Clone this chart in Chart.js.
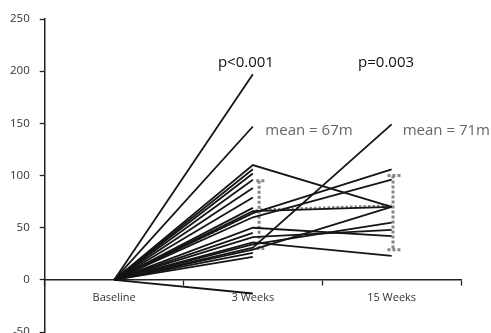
<!DOCTYPE html>
<html>
<head>
<meta charset="utf-8">
<script src="https://cdn.jsdelivr.net/npm/chart.js@4.4.1/dist/chart.umd.min.js"></script>
<style>
  html, body { margin: 0; padding: 0; background: #fff; overflow: hidden; }
  #wrap { width: 491px; height: 349px; }
</style>
</head>
<body>
<div id="wrap"><canvas id="chart"></canvas></div>
<script>
'use strict';

const categories = ['Baseline', '3 Weeks', '15 Weeks'];
const yTicks = [-50, 0, 50, 100, 150, 200, 250];

// one entry per patient, change from baseline (m)
const week3 = [197, 147, 110, 106, 102, 96, 88, 79, 69, 64, 60, 66, 50, 45, 41, 36, 34, 31, 29, 26, 22, -13];
const week15 = [null, null, 70, null, null, null, null, null, null, 106, 96, 70, 42, null, 48, 23, 55, 149, 70, null, null, null];

const means = [0, 67, 71];
const range3 = [30, 95];
const range15 = [29, 100];
const pLabels = ['p<0.001', 'p=0.003'];
const meanLabels = ['mean = 67m', 'mean = 71m'];

const LINE = '#151515';
const DOT = '#868686';

const datasets = week3.map((v, i) => ({
    data: [{x: 0, y: 0}, {x: 1, y: v}, {x: 2, y: week15[i]}],
    borderColor: LINE,
    borderWidth: 1.8,
    pointRadius: 0,
    spanGaps: false
}));

datasets.push({
    data: [{x: 0, y: means[0]}, {x: 1.04, y: means[1]}, {x: 2.0, y: means[2]}],
    borderColor: DOT,
    borderWidth: 3,
    borderDash: [2.5, 2],
    pointRadius: 0
});

function rangeBar(x, lo, hi, l, r) {
    return [
        {x: x - l, y: hi}, {x: x + r, y: hi}, {x: NaN, y: null},
        {x: x, y: hi}, {x: x, y: lo}, {x: NaN, y: null},
        {x: x - l, y: lo}, {x: x + r, y: lo}
    ];
}

datasets.push({
    data: rangeBar(1.045, range3[0], range3[1], 0.02, 0.05),
    borderColor: DOT, borderWidth: 3, borderDash: [3, 2], pointRadius: 0, spanGaps: false
});
datasets.push({
    data: rangeBar(2.01, range15[0], range15[1], 0.04, 0.06),
    borderColor: DOT, borderWidth: 3, borderDash: [3, 2], pointRadius: 0, spanGaps: false
});

const textPlugin = {
    id: 'texts',
    afterDatasetsDraw(chart) {
        const {ctx, scales: {x, y}} = chart;
        ctx.save();
        ctx.font = '15px "Open Sans"';
        ctx.textBaseline = 'middle';
        ctx.fillStyle = '#111';
        ctx.textAlign = 'center';
        ctx.fillText(pLabels[0], x.getPixelForValue(0.95), y.getPixelForValue(208));
        ctx.fillText(pLabels[1], x.getPixelForValue(1.96), y.getPixelForValue(208));
        ctx.fillStyle = '#666';
        ctx.textAlign = 'left';
        ctx.fillText(meanLabels[0], x.getPixelForValue(1.09), y.getPixelForValue(143));
        ctx.fillText(meanLabels[1], x.getPixelForValue(2.08), y.getPixelForValue(143));
        ctx.restore();
    }
};

new Chart(document.getElementById('chart'), {
    type: 'line',
    data: {datasets: datasets},
    options: {
        responsive: true,
        maintainAspectRatio: false,
        animation: false,
        layout: {padding: {left: 0, right: 30, top: 19, bottom: 14}},
        plugins: {legend: {display: false}, tooltip: {enabled: false}},
        scales: {
            x: {
                type: 'linear',
                position: {y: 0},
                min: -0.5,
                max: 2.5,
                ticks: {
                    stepSize: 0.5,
                    autoSkip: false,
                    maxRotation: 0,
                    padding: 6,
                    color: '#333',
                    font: {family: '"Open Sans"', size: 11},
                    callback: v => Number.isInteger(v) ? categories[v] : ''
                },
                grid: {
                    drawOnChartArea: false,
                    tickLength: 5,
                    tickColor: c => (c.tick && Number.isInteger(c.tick.value)) ? 'rgba(0,0,0,0)' : '#222',
                    tickWidth: 1.3
                },
                border: {color: '#222', width: 1.5}
            },
            y: {
                min: -50,
                max: 250,
                afterBuildTicks: s => { s.ticks = yTicks.map(v => ({value: v})); },
                ticks: {
                    padding: 10,
                    color: '#333',
                    font: {family: '"Open Sans"', size: 11.5}
                },
                grid: {drawOnChartArea: false, tickLength: 5, tickColor: '#222', tickWidth: 1.3},
                border: {color: '#222', width: 1.5}
            }
        }
    },
    plugins: [textPlugin]
});
</script>
</body>
</html>
